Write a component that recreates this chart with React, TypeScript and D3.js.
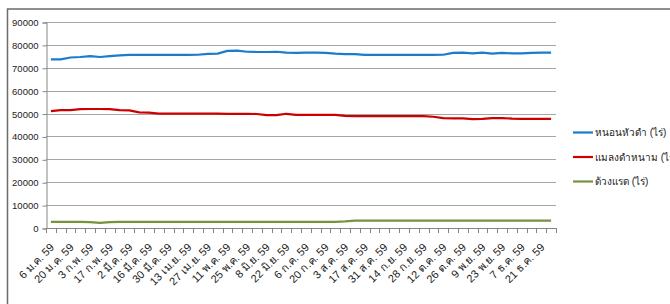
import { useEffect, useRef } from "react";
import * as d3 from "d3";

// biweekly labels (every second weekly point)
const tickLabels = [
  "6 ม.ค. 59", "20 ม.ค. 59", "3 ก.พ. 59", "17 ก.พ. 59", "2 มี.ค. 59", "16 มี.ค. 59",
  "30 มี.ค. 59", "13 เม.ย. 59", "27 เม.ย. 59", "11 พ.ค. 59", "25 พ.ค. 59", "8 มิ.ย. 59",
  "22 มิ.ย. 59", "6 ก.ค. 59", "20 ก.ค. 59", "3 ส.ค. 59", "17 ส.ค. 59", "31 ส.ค. 59",
  "14 ก.ย. 59", "28 ก.ย. 59", "12 ต.ค. 59", "26 ต.ค. 59", "9 พ.ย. 59", "23 พ.ย. 59",
  "7 ธ.ค. 59", "21 ธ.ค. 59",
];

const seriesNames = ["หนอนหัวดำ (ไร่)", "แมลงดำหนาม (ไร่)", "ด้วงแรด (ไร่)"];
const seriesColors = ["#1a7ccc", "#cc0000", "#77933c"];

const headWorm = [
  73700, 73700, 74500, 74700, 75100, 74700, 75100, 75400, 75600, 75600,
  75600, 75600, 75600, 75600, 75600, 75700, 76100, 76200, 77400, 77500,
  77000, 76900, 76900, 77000, 76600, 76500, 76600, 76600, 76500, 76200,
  76000, 76000, 75600, 75600, 75600, 75600, 75600, 75600, 75600, 75600,
  75700, 76500, 76600, 76300, 76600, 76200, 76500, 76300, 76300, 76500,
  76600, 76600,
];
const hispa = [
  51100, 51500, 51500, 51900, 52000, 52000, 51900, 51500, 51400, 50500,
  50400, 50000, 50000, 50000, 50000, 50000, 50000, 50000, 49900, 49900,
  49900, 49800, 49300, 49300, 49900, 49400, 49400, 49400, 49400, 49400,
  49000, 48900, 48900, 48900, 48900, 48900, 48900, 48900, 48900, 48600,
  48000, 47900, 47900, 47600, 47700, 48000, 48000, 47800, 47700, 47700,
  47700, 47700,
];
const beetle = [
  2700, 2700, 2700, 2700, 2600, 2200, 2600, 2700, 2700, 2700,
  2700, 2700, 2700, 2700, 2700, 2700, 2700, 2700, 2700, 2700,
  2700, 2700, 2700, 2700, 2700, 2700, 2700, 2700, 2700, 2700,
  2900, 3200, 3200, 3200, 3200, 3200, 3200, 3200, 3200, 3200,
  3200, 3200, 3200, 3200, 3200, 3200, 3200, 3200, 3200, 3200,
  3200, 3200,
];

const yTicks = [0, 10000, 20000, 30000, 40000, 50000, 60000, 70000, 80000, 90000];

const App = () => {
  const ref = useRef<SVGSVGElement>(null);

  useEffect(() => {
    const svg = d3.select(ref.current);
    svg.selectAll("*").remove();

    const font = "Tahoma, 'Liberation Sans', sans-serif";
    const left = 46, right = 556, top = 22, bottom = 228;
    const n = headWorm.length;

    const x = d3.scaleBand<number>().domain(d3.range(n)).range([left, right]);
    const y = d3.scaleLinear().domain([0, 90000]).range([bottom, top]);

    // outer frame
    svg.append("rect")
      .attr("x", 7.5).attr("y", 9)
      .attr("width", 800).attr("height", 400)
      .attr("fill", "#fff").attr("stroke", "#6b6b6b").attr("stroke-width", 1.5);

    // gridlines
    svg.append("g").selectAll("line").data(yTicks.slice(1)).join("line")
      .attr("x1", left).attr("x2", right)
      .attr("y1", (d) => Math.round(y(d)) + 0.5).attr("y2", (d) => Math.round(y(d)) + 0.5)
      .attr("stroke", "#a6a6a6");

    // y axis
    const ya = svg.append("g")
      .attr("transform", `translate(${left + 0.5},0.5)`)
      .call(d3.axisLeft(y).tickValues(yTicks).tickSize(4).tickPadding(4).tickFormat(d3.format("d")));
    ya.select(".domain").attr("stroke", "#868686");
    ya.selectAll(".tick line").attr("stroke", "#868686");
    ya.selectAll("text").attr("font-family", font).attr("font-size", 9.5).attr("fill", "#222");

    // x axis
    svg.append("line")
      .attr("x1", left).attr("x2", right)
      .attr("y1", bottom + 0.5).attr("y2", bottom + 0.5)
      .attr("stroke", "#868686");
    const bounds = d3.range(n + 1).map((i) => (i < n ? x(i)! : right));
    svg.append("g").selectAll("line").data(bounds).join("line")
      .attr("x1", (d) => Math.round(d) + 0.5).attr("x2", (d) => Math.round(d) + 0.5)
      .attr("y1", bottom).attr("y2", bottom + 5)
      .attr("stroke", "#868686");

    svg.append("g").selectAll("text").data(tickLabels).join("text")
      .attr("transform", (_, i) => `translate(${x(i * 2)! + x.bandwidth() / 2 + 4},248) rotate(-45)`)
      .attr("text-anchor", "end")
      .attr("font-family", font).attr("font-size", 11).attr("fill", "#222")
      .text((d) => d);

    // lines
    const line = d3.line<number>()
      .x((_, i) => x(i)! + x.bandwidth() / 2)
      .y((d) => y(d));
    [headWorm, hispa, beetle].forEach((s, k) => {
      svg.append("path")
        .datum(s)
        .attr("fill", "none")
        .attr("stroke", seriesColors[k])
        .attr("stroke-width", 2.2)
        .attr("stroke-linejoin", "round")
        .attr("d", line);
    });

    // legend
    const lg = svg.append("g").selectAll("g").data(seriesNames).join("g")
      .attr("transform", (_, i) => `translate(573,${132.5 + i * 24.5})`);
    lg.append("line")
      .attr("x1", 0).attr("x2", 20)
      .attr("stroke", (_, i) => seriesColors[i]).attr("stroke-width", 2.2);
    lg.append("text")
      .attr("x", 22).attr("dy", "0.35em")
      .attr("font-family", font).attr("font-size", 10).attr("fill", "#222")
      .text((d) => d);
  }, []);

  return (
    <svg ref={ref} width={670} height={304}
      style={{ position: "absolute", left: 0, top: 0, background: "#fff" }} />
  );
};

export default App;
